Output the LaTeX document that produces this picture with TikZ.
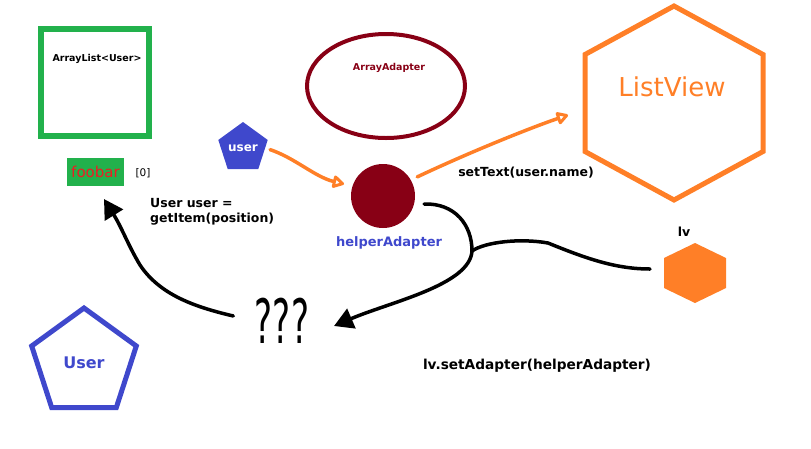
\documentclass[tikz,border=0pt]{standalone}
\usepackage{fontspec}
\setmainfont{DejaVu Sans}
\usetikzlibrary{arrows.meta, shapes.geometric, calc}
\definecolor{PGreen}{HTML}{22B14C}
\definecolor{PRed}{HTML}{880015}
\definecolor{PBlue}{HTML}{3F48CC}
\definecolor{POrange}{HTML}{FF7F27}
\definecolor{PBright}{HTML}{ED1C24}

\begin{document}
\begin{tikzpicture}[x=1pt, y=-1pt,
    code/.style={font=\bfseries\fontsize{12.5}{15}\selectfont, text=black, inner sep=0pt},
    ink/.style={line width=3.5pt, line cap=round, line join=round},
    inktip/.style={-{Triangle[length=19pt, width=21pt]}},
    pentagon/.style={regular polygon, regular polygon sides=5, inner sep=0pt},
    opentip/.style={-{Triangle[open, round, length=13pt, width=14pt, line width=3pt]}},
]

    \useasboundingbox (0,0) rectangle (811,448);

    % Data
    \draw[PGreen, line width=6pt] (41,29) rectangle (149,136);
    \node[font=\bfseries\fontsize{9.5}{11}\selectfont, inner sep=0pt] (list) at (97,59) {ArrayList<User>};
    \node[fill=PGreen, text=PBright, minimum width=57pt, minimum height=28pt,
          font=\fontsize{15}{15}\selectfont] (foobar) at (95.5,172) {foobar};
    \node[font=\fontsize{10.5}{12}\selectfont, inner sep=0pt] (index) at (143,173) {[0]};
    \node[code, align=left, anchor=west]
        (getitem) at (150,212) {User user =\\getItem(position)};

    % Adapter
    \node[draw=PRed, line width=4pt, ellipse, minimum width=158pt, minimum height=104pt] (adapter) at (386,86) {};
    \node[font=\bfseries\fontsize{9.5}{11}\selectfont, text=PRed, inner sep=0pt] (adaptername) at (389,68) {ArrayAdapter};
    \node[circle, fill=PRed, minimum size=64pt, inner sep=0pt] (helper) at (383,196) {};
    \node[code, text=PBlue, font=\bfseries\fontsize{13}{15}\selectfont] (helpername) at (389,243) {helperAdapter};

    % Users
    \node[pentagon, fill=PBlue, minimum size=50pt, text=white,
          font=\bfseries\fontsize{12}{12}\selectfont] (user) at (243,148) {user};
    \node[pentagon, draw=PBlue, line width=5pt, minimum size=110pt, text=PBlue,
          font=\bfseries\fontsize{16}{16}\selectfont] (usercls) at (84,363) {User};

    % Views
    \begin{scope}[shift={(674,103)}]
        \draw[POrange, line width=5pt]
            (0,-97) -- (89,-48.5) -- (89,48.5) -- (0,97) -- (-89,48.5) -- (-89,-48.5) -- cycle;
        \node[font=\fontsize{26}{26}\selectfont, text=POrange] (listview) at (-2,-16) {ListView};
    \end{scope}
    \begin{scope}[shift={(695,273)}]
        \fill[POrange] (0,-30) -- (31,-15) -- (31,15) -- (0,30) -- (-31,15) -- (-31,-15) -- cycle;
        \coordinate (lv) at (0,0);
    \end{scope}
    \node[code] (lvname) at (684,232) {lv};

    \node[code] (settext) at (526,173) {setText(user.name)};
    \node[code, font=\bfseries\fontsize{13.7}{15}\selectfont] (setadapter) at (537,366) {lv.setAdapter(helperAdapter)};
    \node[font=\fontsize{34}{34}\selectfont, inner sep=0pt] (unknown) at (282,321) {\scalebox{1}[1.8]{???}};

    \coordinate (tipuser) at (344,184);
    \coordinate (tiplist) at (568,115);
    \coordinate (tipget) at (104,199);
    \coordinate (tipunknown) at (334,326);
    \coordinate (join) at (472,251);
    \coordinate (lvend) at ($(lv)+(-45,-4)$);

    % Orange arrows
    \draw[POrange, ink, opentip, shorten <=5pt] (user.east) .. controls (295,158) and (315,177) .. (tipuser);
    \draw[POrange, ink, opentip, shorten <=7pt] (helper.30) .. controls (470,152) and (530,128) .. (tiplist);

    % Black arrows
    \draw[ink, inktip, shorten <=22pt] (unknown.west) .. controls (195,307) and (160,295) .. (140,265)
        .. controls (128,245) and (122,228) .. (tipget);
    \draw[ink, inktip, shorten <=10pt] (helper.-15) .. controls (455,203) and (472,225) .. (join)
        .. controls (470,285) and (390,302) .. (tipunknown);
    \draw[ink] (join) .. controls (485,242) and (520,238) .. (548,243)
        .. controls (585,258) and (615,269) .. (lvend);

\end{tikzpicture}
\end{document}
